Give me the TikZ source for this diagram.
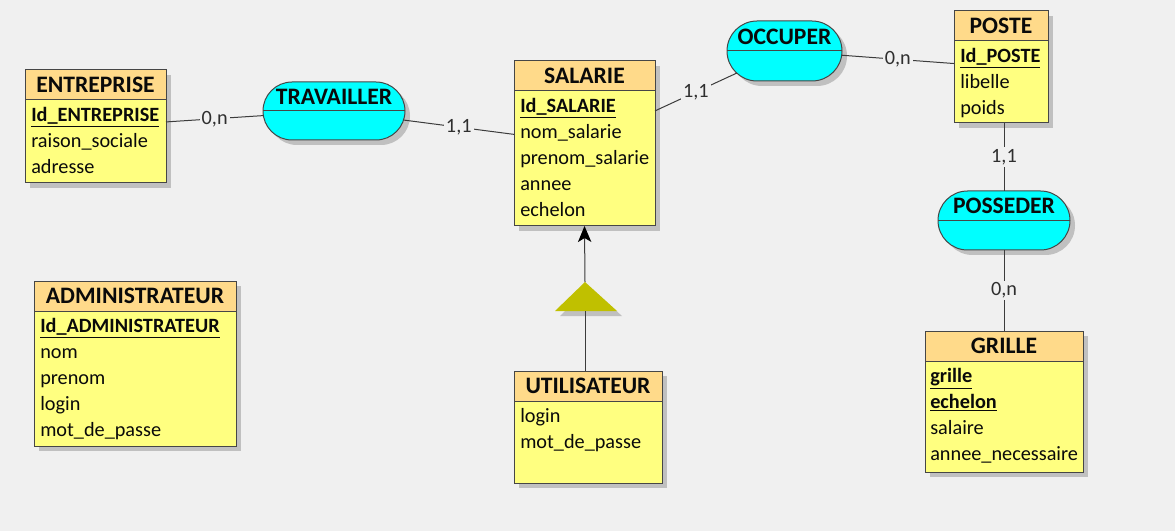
\documentclass[tikz,border=0pt]{standalone}
\usepackage{fontspec}
\setmainfont{Carlito}
\usetikzlibrary{arrows.meta,calc,shapes.misc}
\definecolor{bgc}{RGB}{240,240,240}
\definecolor{headc}{RGB}{255,218,138}
\definecolor{bodyc}{RGB}{255,255,128}
\definecolor{relc}{RGB}{0,255,255}
\definecolor{tric}{RGB}{192,192,0}
\definecolor{shc}{RGB}{192,192,192}
\definecolor{linec}{RGB}{60,60,60}
\definecolor{bordc}{RGB}{70,70,70}
\definecolor{txtc}{RGB}{10,10,10}
\newcommand\attrfont{\fontsize{15.2}{18}\selectfont}
\newcommand\titlefont{\fontsize{17.7}{20}\selectfont\bfseries}
\tikzset{
  entbody/.style={draw=bordc, fill=bodyc, line width=0.75pt, inner sep=0pt, outer sep=0pt, anchor=north west},
  enthead/.style={draw=bordc, fill=headc, line width=0.75pt, inner sep=0pt, outer sep=0pt, anchor=north west, font=\titlefont, text=txtc},
  attr/.style={anchor=base west, inner sep=0pt, font=\attrfont, text=txtc},
  relnode/.style={rounded rectangle, draw=bordc, fill=relc, line width=0.75pt, inner sep=0pt, outer sep=0pt},
  relshadow/.style={rounded rectangle, fill=shc, draw=none, inner sep=0pt, outer sep=0pt},
  reltitle/.style={inner sep=0pt, font=\titlefont, text=txtc},
  card/.style={fill=bgc, inner sep=1.5pt, font=\attrfont, text=txtc!85},
  conn/.style={draw=linec, line width=0.75pt},
}
% #1 name, #2 x, #3 y, #4 w, #5 h, #6 title
\newcommand\ent[6]{%
  \fill[shc] (#2+5,#3+5) rectangle (#2+#4+5,#3+#5+5);
  \node[entbody, minimum width=#4*0.75pt, minimum height=#5*0.75pt] (#1) at (#2,#3) {};
  \node[enthead, minimum width=#4*0.75pt, minimum height=30*0.75pt] (#1-h) at (#2,#3) {#6};
}
% #1 name, #2 x, #3 header bottom, #4 list
\newcommand\attrs[4]{%
  \foreach \t [count=\i] in {#4} {
    \node[attr] (#1-a\i) at (#2, #3+21.5+25.9*\i-25.9) {\t};
  }
}
% #1 name, #2 cx, #3 cy, #4 w, #5 h, #6 title
\newcommand\rel[6]{%
  \node[relshadow, minimum width=#4*0.75pt, minimum height=#5*0.75pt] (#1-sh) at (#2+5,#3+5) {};
  \node[relnode, minimum width=#4*0.75pt, minimum height=#5*0.75pt] (#1) at (#2,#3) {};
  \draw[bordc, line width=0.75pt] (#1.west) -- (#1.east);
  \node[reltitle] (#1-t) at (#2,#3-14.5) {#6};
}
\begin{document}
\begin{tikzpicture}[x=0.75pt,y=-0.75pt]
\fill[bgc] (0,0) rectangle (1175,531);
\useasboundingbox (0,0) rectangle (1175,531);

% entities
\ent{ent}{25}{70}{141}{113}{ENTREPRISE}
\attrs{ent}{31}{100}{\underline{\textbf{Id\_ENTREPRISE}},raison\_sociale,adresse}

\ent{sal}{514}{61}{141}{165}{SALARIE}
\attrs{sal}{520}{91}{\underline{\textbf{Id\_SALARIE}},nom\_salarie,prenom\_salarie,annee,echelon}

\ent{poste}{954}{11}{94}{112}{POSTE}
\attrs{poste}{960}{41}{\underline{\textbf{Id\_POSTE}},libelle,poids}

\ent{grille}{925}{331}{158}{141}{GRILLE}
\attrs{grille}{930}{361}{\underline{\textbf{grille}},\underline{\textbf{echelon}},salaire,annee\_necessaire}

\ent{util}{514}{371}{148}{112}{UTILISATEUR}
\attrs{util}{520}{401}{login,mot\_de\_passe}

\ent{admin}{34}{281}{202}{165}{ADMINISTRATEUR}
\attrs{admin}{40}{311}{\underline{\textbf{Id\_ADMINISTRATEUR}},nom,prenom,login,mot\_de\_passe}

% relations
\rel{trav}{334}{111}{142}{58}{TRAVAILLER}
\rel{occ}{784.5}{51}{115}{60}{OCCUPER}
\rel{poss}{1004}{220.5}{132}{59}{POSSEDER}

% connectors
\draw[conn] (ent) -- node[card] (c1) {0,n} (trav);
\draw[conn] (trav) -- node[card] (c2) {1,1} (sal);
\draw[conn] (sal) -- node[card] (c3) {1,1} (occ);
\draw[conn] (occ) -- node[card] (c4) {0,n} (poste);
\draw[conn] (poss.north) -- node[card] (c5) {1,1} (poss.north |- poste.south);
\draw[conn] (poss.south) -- node[card] (c6) {0,n} (poss.south |- grille.north);

% inheritance
\coordinate (tri-top) at (585,282);
\coordinate (tri-base) at (585,311);
\fill[shc] (560,316) -- (590,287) -- (622,316) -- cycle;
\fill[tric] (555,311) -- (tri-top) -- (617,311) -- cycle;
\draw[conn, -{Stealth[length=12pt,width=10pt,inset=3pt,fill=black,color=black]}] (tri-top) -- (sal.south);
\draw[conn] (tri-base) -- (tri-base |- util.north);
\end{tikzpicture}
\end{document}
